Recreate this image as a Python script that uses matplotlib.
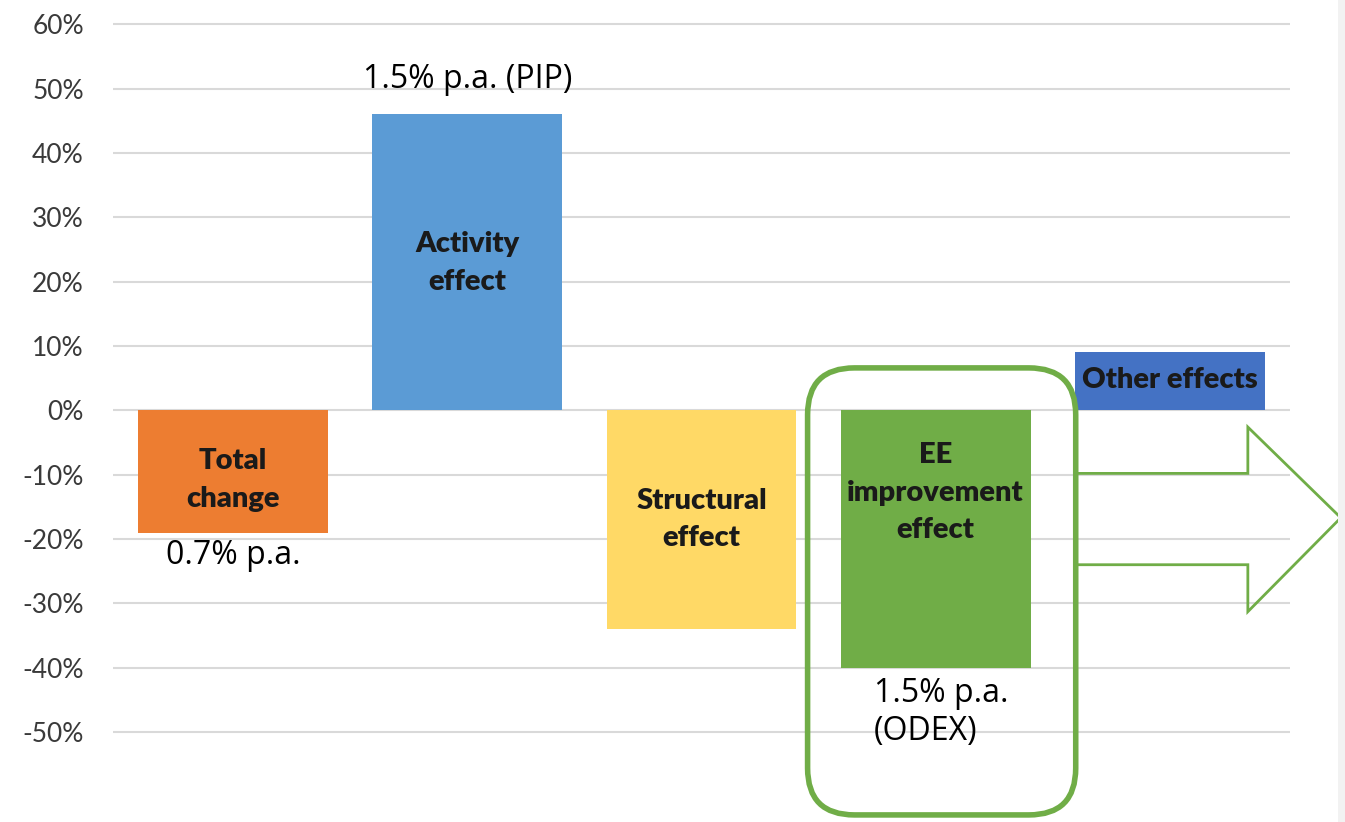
import matplotlib
matplotlib.use("Agg")
import matplotlib.pyplot as plt
from matplotlib.patches import FancyBboxPatch, Rectangle
from matplotlib.ticker import PercentFormatter

categories = ["Total\nchange", "Activity\neffect", "Structural\neffect",
              "EE\nimprovement\neffect", "Other effects"]
values = [-0.19, 0.46, -0.34, -0.40, 0.09]
colors = ["#ED7D31", "#5B9BD5", "#FFD966", "#70AD47", "#4472C4"]
yticks = [-0.5, -0.4, -0.3, -0.2, -0.1, 0.0, 0.1, 0.2, 0.3, 0.4, 0.5, 0.6]

plt.rcParams['font.family'] = ['Open Sans', 'DejaVu Sans']
plt.rcParams['axes.unicode_minus'] = False

fig = plt.figure(figsize=(13.45, 8.22), dpi=100)
ax = fig.add_axes([113 / 1345, 0, (1290 - 113) / 1345, 1])

x = list(range(len(values)))
ax.bar(x, values, width=0.81, color=colors, zorder=2)

ax.set_xlim(-0.513, 4.513)
ax.set_ylim(-0.64, 0.638)
ax.set_yticks(yticks)
ax.yaxis.set_major_formatter(PercentFormatter(1.0, decimals=0))
ax.set_xticks([])
ax.grid(axis="y", color="#D9D9D9", lw=1.5, zorder=0)
for s in ax.spines.values():
    s.set_visible(False)
ax.tick_params(axis="y", length=0, pad=21, labelsize=19, labelcolor="#3a3a3a")
for lab in ax.get_yticklabels():
    lab.set_fontfamily(["Lato", "DejaVu Sans"])

# labels inside bars
label_y = [-0.108, 0.229, -0.17, -0.128, 0.047]
for xi, txt, ly in zip(x, categories, label_y):
    ax.text(xi, ly, txt, ha="center", va="center", fontsize=21,
            fontweight="heavy", color="#1a1a1a", family=["Lato", "DejaVu Sans"],
            linespacing=1.55, zorder=3)

# annotations
ax.text(1, 0.514, "1.5% p.a. (PIP)", ha="center", va="center", fontsize=23, color="black")
ax.text(0, -0.225, "0.7% p.a.", ha="center", va="center", fontsize=23, color="black")
ax.text(2.735, -0.47, "1.5% p.a.\n(ODEX)", ha="left", va="center", fontsize=23,
        color="black", linespacing=1.2)

green = "#70AD47"
box = FancyBboxPatch((2.453, -0.629), 3.598 - 2.453, 0.066 + 0.629,
                     boxstyle="round,pad=0,rounding_size=0.2", mutation_aspect=0.364,
                     facecolor="none", edgecolor=green, lw=4, clip_on=False, zorder=4)
ax.add_patch(box)

arrow_x = [3.598, 4.333, 4.333, 4.73, 4.333, 4.333, 3.598]
arrow_y = [-0.098, -0.098, -0.026, -0.167, -0.313, -0.240, -0.240]
ax.plot(arrow_x, arrow_y, color=green, lw=2, clip_on=False, zorder=4,
        solid_joinstyle="miter")

fig.patches.append(Rectangle((1338 / 1345, 0), 7 / 1345, 1, transform=fig.transFigure,
                             facecolor="#F2F2F2", edgecolor="none"))

fig.savefig("out.png", dpi=100)
